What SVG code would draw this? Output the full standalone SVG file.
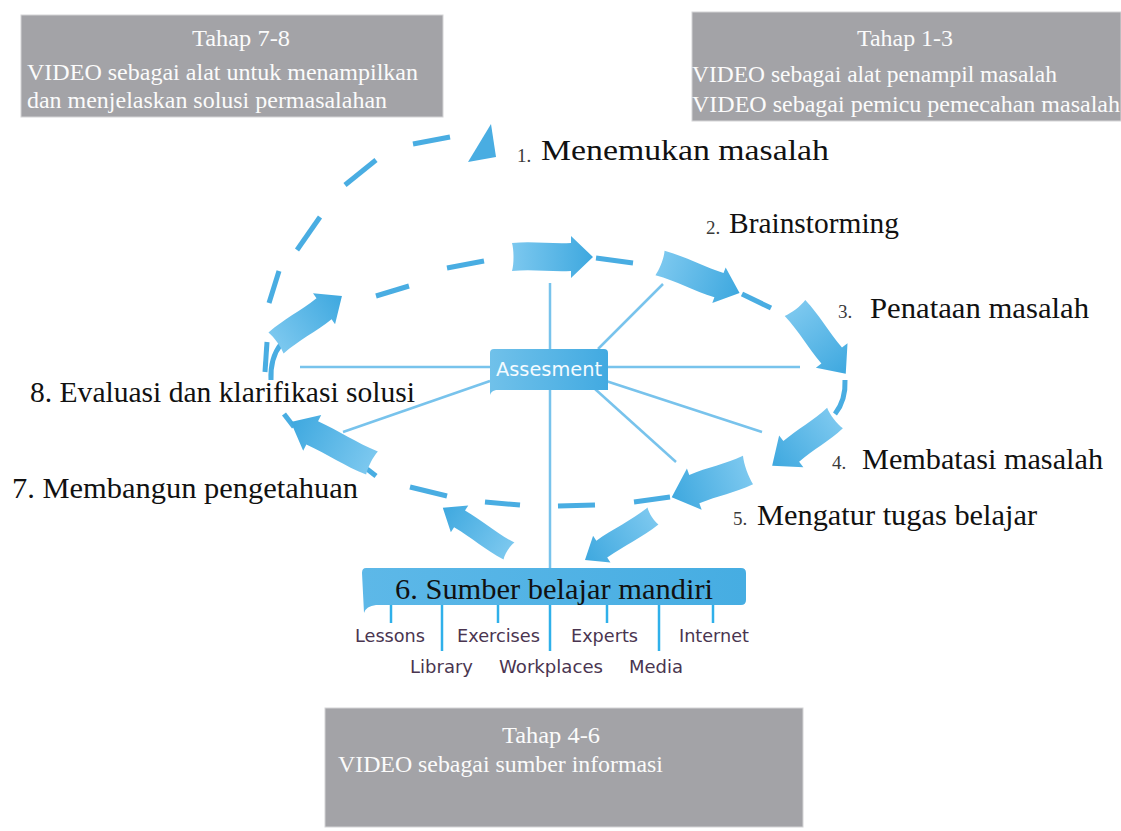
<svg xmlns="http://www.w3.org/2000/svg" width="1121" height="831" viewBox="0 0 1121 831">
  <style>
    .box { fill: #a3a3a7; stroke: #d4d4d6; stroke-width: 1; }
    .boxtxt { font-family: "Liberation Serif", "Times New Roman", serif; font-size: 23px; fill: #fbfbfb; }
    .lbl { font-family: "Liberation Serif", "Times New Roman", serif; font-size: 30px; fill: #111; }
    .num { font-family: "Liberation Serif", "Times New Roman", serif; font-size: 19px; fill: #3a3a3a; }
    .dash { stroke: #49ade2; stroke-width: 5; fill: none; stroke-linecap: butt; }
    .spoke { stroke: #78c3ec; stroke-width: 2.5; fill: none; }
    .tick { stroke: #2fb0ea; stroke-width: 2.5; fill: none; }
    .arrow { fill: url(#arrowGrad); }
    .sub { font-family: "DejaVu Sans", "Noto Sans", sans-serif; font-size: 17px; fill: #4a3550; }
  </style>
  <defs>
    <linearGradient id="arrowGrad" x1="0" y1="0" x2="1" y2="0">
      <stop offset="0" stop-color="#7cc8ef"/>
      <stop offset="1" stop-color="#3ea8df"/>
    </linearGradient>
    <linearGradient id="barGrad" x1="0" y1="0" x2="1" y2="0">
      <stop offset="0" stop-color="#5db8e8"/>
      <stop offset="1" stop-color="#46ade2"/>
    </linearGradient>
    <linearGradient id="assGrad" x1="0" y1="0" x2="1" y2="0">
      <stop offset="0" stop-color="#70c1ea"/>
      <stop offset="1" stop-color="#42aae1"/>
    </linearGradient>
  </defs>

  <!-- stage boxes -->
  <g id="tahap78">
    <rect class="box" x="21" y="15" width="422" height="102"/>
    <text class="boxtxt" x="241" y="46" text-anchor="middle" textLength="98" lengthAdjust="spacingAndGlyphs">Tahap 7-8</text>
    <text class="boxtxt" x="27" y="80" textLength="391" lengthAdjust="spacingAndGlyphs">VIDEO sebagai alat untuk menampilkan</text>
    <text class="boxtxt" x="27" y="108" textLength="360" lengthAdjust="spacingAndGlyphs">dan menjelaskan solusi permasalahan</text>
  </g>
  <g id="tahap13">
    <rect class="box" x="692" y="12" width="429" height="109"/>
    <text class="boxtxt" x="905" y="46" text-anchor="middle" textLength="96" lengthAdjust="spacingAndGlyphs">Tahap 1-3</text>
    <text class="boxtxt" x="692" y="82" textLength="365" lengthAdjust="spacingAndGlyphs">VIDEO sebagai alat penampil masalah</text>
    <text class="boxtxt" x="692" y="112" textLength="428" lengthAdjust="spacingAndGlyphs">VIDEO sebagai pemicu pemecahan masalah</text>
  </g>
  <g id="tahap46">
    <rect class="box" x="325" y="708" width="478" height="119"/>
    <text class="boxtxt" x="551" y="743" text-anchor="middle" textLength="98" lengthAdjust="spacingAndGlyphs">Tahap 4-6</text>
    <text class="boxtxt" x="338" y="772" textLength="325" lengthAdjust="spacingAndGlyphs">VIDEO sebagai sumber informasi</text>
  </g>

  <!-- connectors: spokes, dashed cycle and block arrows -->
  <g id="connectors">
    <!-- spokes from the assessment hub -->
    <line class="spoke" x1="550" y1="283" x2="550" y2="568"/>
    <line class="spoke" x1="300" y1="367" x2="490" y2="367"/>
    <line class="spoke" x1="608" y1="367" x2="800" y2="367"/>
    <line class="spoke" x1="598" y1="349" x2="663" y2="284"/>
    <line class="spoke" x1="490" y1="381" x2="343" y2="432"/>
    <line class="spoke" x1="606" y1="381" x2="762" y2="432"/>
    <line class="spoke" x1="595" y1="389" x2="676" y2="462"/>

    <!-- outer dashed arc -->
    <line class="dash" x1="265" y1="372" x2="267" y2="342"/>
    <line class="dash" x1="269" y1="303" x2="279" y2="271"/>
    <line class="dash" x1="297" y1="250" x2="320" y2="217"/>
    <line class="dash" x1="345" y1="185" x2="376" y2="160"/>
    <line class="dash" x1="413" y1="144" x2="450" y2="137"/>
    <path d="M491,124 L496,157 L468,162 Z" fill="#49ade2"/>

    <!-- inner dashed cycle -->
    <line class="dash" x1="376" y1="296" x2="409" y2="286"/>
    <line class="dash" x1="447" y1="268" x2="484" y2="261"/>
    <line class="dash" x1="596" y1="258" x2="633" y2="263"/>
    <line class="dash" x1="742" y1="294" x2="771" y2="308"/>
    <path class="dash" d="M845,380 Q846,400 835,414"/>
    <line class="dash" x1="634" y1="502" x2="670" y2="497"/>
    <line class="dash" x1="558" y1="506" x2="595" y2="505"/>
    <line class="dash" x1="485" y1="502" x2="520" y2="505"/>
    <line class="dash" x1="410" y1="487" x2="447" y2="496"/>
    <line class="dash" x1="367" y1="469" x2="376" y2="476"/>
    <line class="dash" x1="284" y1="414" x2="294" y2="427"/>
    <path class="dash" d="M271,380 Q270,358 281,344"/>

    <!-- block arrows -->
    <path class="arrow" transform="translate(512,257)" d="M0,-14 C21,-16 38,-13 59,-14 L59,-21 L81,0 L59,21 L59,14 C38,15 21,12 0,14 C2,7 2,-7 0,-14 Z"/>
    <path class="arrow" transform="translate(660,263) rotate(20.6)" d="M0,-13 C22,-15 41,-12 63,-13 L63,-19 L85,0 L63,19 L63,13 C41,14 22,11 0,13 C2,6 2,-6 0,-13 Z"/>
    <path class="arrow" transform="translate(795,308) rotate(52.3)" d="M0,-13 C21,-15 39,-12 60,-13 L60,-20 L83,0 L60,20 L60,13 C39,14 21,11 0,13 C2,6 2,-6 0,-13 Z"/>
    <path class="arrow" transform="translate(835,418) rotate(142.7)" d="M0,-13 C19,-15 36,-12 55,-13 L55,-20 L79,0 L55,20 L55,13 C36,14 19,11 0,13 C2,6 2,-6 0,-13 Z"/>
    <path class="arrow" transform="translate(748,470) rotate(160.4)" d="M0,-15 C20,-17 37,-14 57,-15 L57,-22 L81,0 L57,22 L57,15 C37,16 20,13 0,15 C2,7 2,-7 0,-15 Z"/>
    <path class="arrow" transform="translate(653,516) rotate(147.1)" d="M0,-10 C21,-12 40,-9 61,-10 L61,-16 L81,0 L61,16 L61,10 C40,11 21,8 0,10 C2,5 2,-5 0,-10 Z"/>
    <path class="arrow" transform="translate(509,551) rotate(213.1)" d="M0,-10 C21,-12 38,-9 59,-10 L59,-16 L79,0 L59,16 L59,10 C38,11 21,8 0,10 C2,5 2,-5 0,-10 Z"/>
    <path class="arrow" transform="translate(372,463) rotate(206.8)" d="M0,-13 C23,-15 44,-12 67,-13 L67,-20 L91,0 L67,20 L67,13 C44,14 23,11 0,13 C2,6 2,-6 0,-13 Z"/>
    <path class="arrow" transform="translate(276,343) rotate(-35.5)" d="M0,-13 C21,-15 38,-12 59,-13 L59,-19 L81,0 L59,19 L59,13 C38,14 21,11 0,13 C2,6 2,-6 0,-13 Z"/>
  </g>

  <!-- hub -->
  <g id="assesment">
    <path d="M494,349 L604,349 Q608,349 608,353 L608,390 L496,390 Q491,391 490,395 L490,353 Q490,349 494,349 Z" fill="url(#assGrad)"/>
    <text x="549" y="376" text-anchor="middle" font-family="'DejaVu Sans', 'Noto Sans', sans-serif" font-size="19" fill="#f4fbff" textLength="106" lengthAdjust="spacingAndGlyphs">Assesment</text>
  </g>

  <!-- stage labels -->
  <g id="step1">
    <text class="num" x="517" y="162">1.</text>
    <text class="lbl" x="541" y="160" textLength="288" lengthAdjust="spacingAndGlyphs">Menemukan masalah</text>
  </g>
  <g id="step2">
    <text class="num" x="706" y="234">2.</text>
    <text class="lbl" x="729" y="233" textLength="170" lengthAdjust="spacingAndGlyphs">Brainstorming</text>
  </g>
  <g id="step3">
    <text class="num" x="838" y="318">3.</text>
    <text class="lbl" x="870" y="318" textLength="219" lengthAdjust="spacingAndGlyphs">Penataan masalah</text>
  </g>
  <g id="step4">
    <text class="num" x="832" y="469">4.</text>
    <text class="lbl" x="862" y="469" textLength="241" lengthAdjust="spacingAndGlyphs">Membatasi masalah</text>
  </g>
  <g id="step5">
    <text class="num" x="733" y="525">5.</text>
    <text class="lbl" x="757" y="525" textLength="280" lengthAdjust="spacingAndGlyphs">Mengatur tugas belajar</text>
  </g>
  <g id="step7">
    <text class="lbl" x="12" y="498" textLength="346" lengthAdjust="spacingAndGlyphs">7. Membangun pengetahuan</text>
  </g>
  <g id="step8">
    <text class="lbl" x="30" y="402" textLength="385" lengthAdjust="spacingAndGlyphs">8. Evaluasi dan klarifikasi solusi</text>
  </g>

  <!-- self-study resources bar -->
  <g id="step6">
    <path d="M366,568 L741,568 Q746,568 746,573 L746,600 Q746,605 741,605 L376,605 Q366,606 364,613 L362,573 Q362,568 366,568 Z" fill="url(#barGrad)"/>
    <text class="lbl" x="395" y="599" textLength="318" lengthAdjust="spacingAndGlyphs">6. Sumber belajar mandiri</text>
    <line class="tick" x1="391" y1="605" x2="391" y2="623"/>
    <line class="tick" x1="442" y1="605" x2="442" y2="651"/>
    <line class="tick" x1="498" y1="605" x2="498" y2="623"/>
    <line class="tick" x1="550" y1="605" x2="550" y2="651"/>
    <line class="tick" x1="607" y1="605" x2="607" y2="623"/>
    <line class="tick" x1="659" y1="605" x2="659" y2="651"/>
    <line class="tick" x1="713" y1="605" x2="713" y2="623"/>
    <text class="sub" x="355" y="642" textLength="70" lengthAdjust="spacingAndGlyphs">Lessons</text>
    <text class="sub" x="410" y="673" textLength="63" lengthAdjust="spacingAndGlyphs">Library</text>
    <text class="sub" x="457" y="642" textLength="83" lengthAdjust="spacingAndGlyphs">Exercises</text>
    <text class="sub" x="499" y="673" textLength="104" lengthAdjust="spacingAndGlyphs">Workplaces</text>
    <text class="sub" x="571" y="642" textLength="67" lengthAdjust="spacingAndGlyphs">Experts</text>
    <text class="sub" x="629" y="673" textLength="54" lengthAdjust="spacingAndGlyphs">Media</text>
    <text class="sub" x="679" y="642" textLength="70" lengthAdjust="spacingAndGlyphs">Internet</text>
  </g>
</svg>
